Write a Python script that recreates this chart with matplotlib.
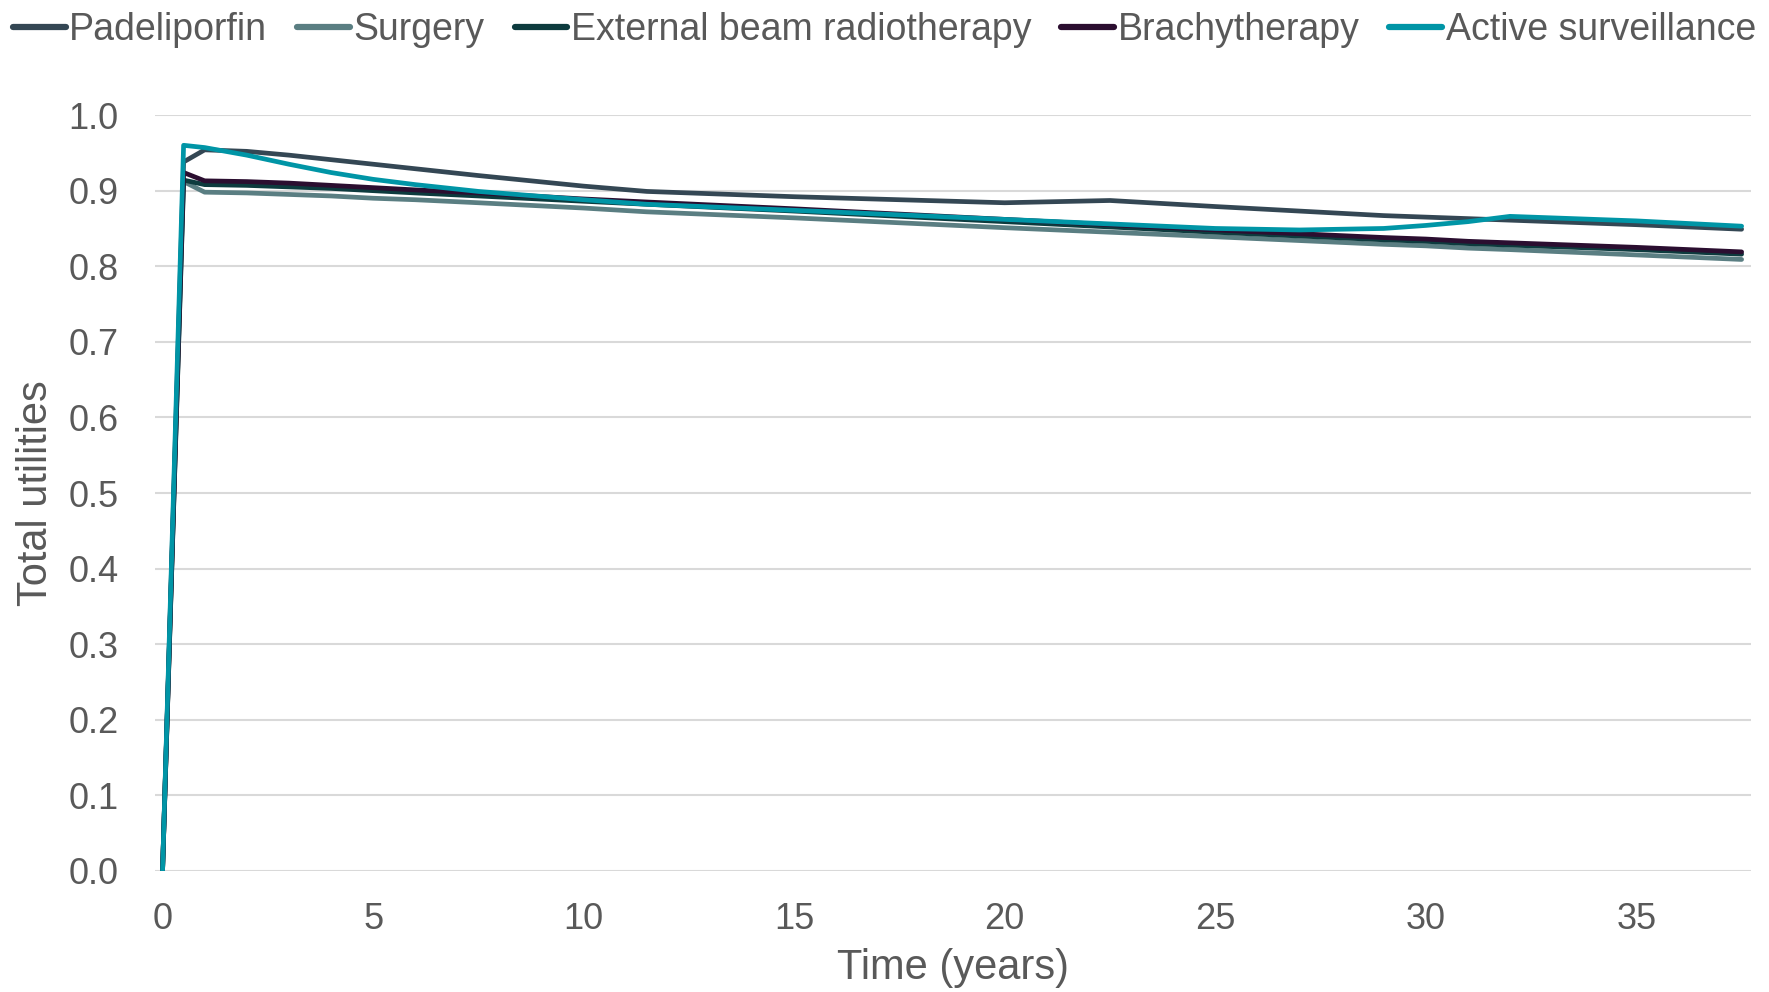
import matplotlib
matplotlib.use("Agg")
import matplotlib.pyplot as plt

plt.rcParams['font.family'] = ['Liberation Sans', 'DejaVu Sans']

# Data
time_years = [0, 0.5, 1, 2, 3, 4, 5, 6, 7.5, 10, 11.5, 15, 20, 22.5, 25, 27, 29, 30, 31, 32, 35, 37.5]

padeliporfin = [0, 0.938, 0.954, 0.952, 0.947, 0.941, 0.935, 0.929, 0.920, 0.906, 0.899, 0.892,
                0.884, 0.887, 0.879, 0.873, 0.867, 0.865, 0.863, 0.861, 0.855, 0.849]
surgery = [0, 0.912, 0.898, 0.897, 0.895, 0.893, 0.890, 0.888, 0.884, 0.877, 0.872, 0.864,
           0.851, 0.845, 0.839, 0.834, 0.829, 0.827, 0.824, 0.822, 0.815, 0.809]
ebrt = [0, 0.914, 0.908, 0.907, 0.905, 0.903, 0.900, 0.897, 0.893, 0.886, 0.882, 0.873,
        0.859, 0.852, 0.845, 0.840, 0.835, 0.833, 0.830, 0.828, 0.822, 0.816]
brachytherapy = [0, 0.924, 0.913, 0.912, 0.910, 0.907, 0.904, 0.901, 0.897, 0.889, 0.885, 0.876,
                 0.862, 0.855, 0.848, 0.843, 0.838, 0.836, 0.833, 0.831, 0.825, 0.819]
active_surveillance = [0, 0.960, 0.957, 0.947, 0.935, 0.924, 0.915, 0.908, 0.899, 0.888, 0.882, 0.874,
                       0.862, 0.856, 0.850, 0.848, 0.850, 0.854, 0.859, 0.866, 0.860, 0.853]

series_names = ["Padeliporfin", "Surgery", "External beam radiotherapy", "Brachytherapy", "Active surveillance"]
series_values = [padeliporfin, surgery, ebrt, brachytherapy, active_surveillance]
colors = ["#344754", "#5a7e82", "#0d3b3e", "#2b0e30", "#0095a6"]

x_ticks = [0, 5, 10, 15, 20, 25, 30, 35]
y_ticks = [0.0, 0.1, 0.2, 0.3, 0.4, 0.5, 0.6, 0.7, 0.8, 0.9, 1.0]

fig = plt.figure(figsize=(17.69, 9.92), dpi=100)
ax = fig.add_axes([0.0876, 0.122, 0.9024, 0.762])

for name, vals, c in zip(series_names, series_values, colors):
    ax.plot(time_years, vals, color=c, lw=3.4, label=name, solid_capstyle='round', solid_joinstyle='round')

ax.set_xlim(-0.18, 37.73)
ax.set_ylim(0, 1.0)
ax.set_xticks(x_ticks)
ax.set_yticks(y_ticks)
ax.set_yticklabels([f"{v:.1f}" for v in y_ticks])
ax.grid(axis='y', color='#d9d9d9', lw=1.5)
ax.set_axisbelow(True)
for s in ax.spines.values():
    s.set_visible(False)
ax.tick_params(axis='both', length=0, labelsize=26, colors='#595959')
ax.tick_params(axis='y', pad=26)
ax.tick_params(axis='x', pad=22)

ax.set_xlabel("Time (years)", fontsize=30, color='#595959')
ax.set_ylabel("Total utilities", fontsize=30, color='#595959')
ax.xaxis.set_label_coords(0.5, -0.128)
ax.xaxis.label.set_va('center')
ax.yaxis.set_label_coords(-0.0745, 0.5)
ax.yaxis.label.set_va('center')

leg = fig.legend(loc='upper center', bbox_to_anchor=(0.5, 1.022), ncol=5, frameon=False,
                 fontsize=27, handlelength=1.4, handletextpad=0.1, columnspacing=0.8,
                 labelcolor='#595959')
for line in leg.get_lines():
    line.set_linewidth(4.5)

fig.savefig("out.png", dpi=100)
